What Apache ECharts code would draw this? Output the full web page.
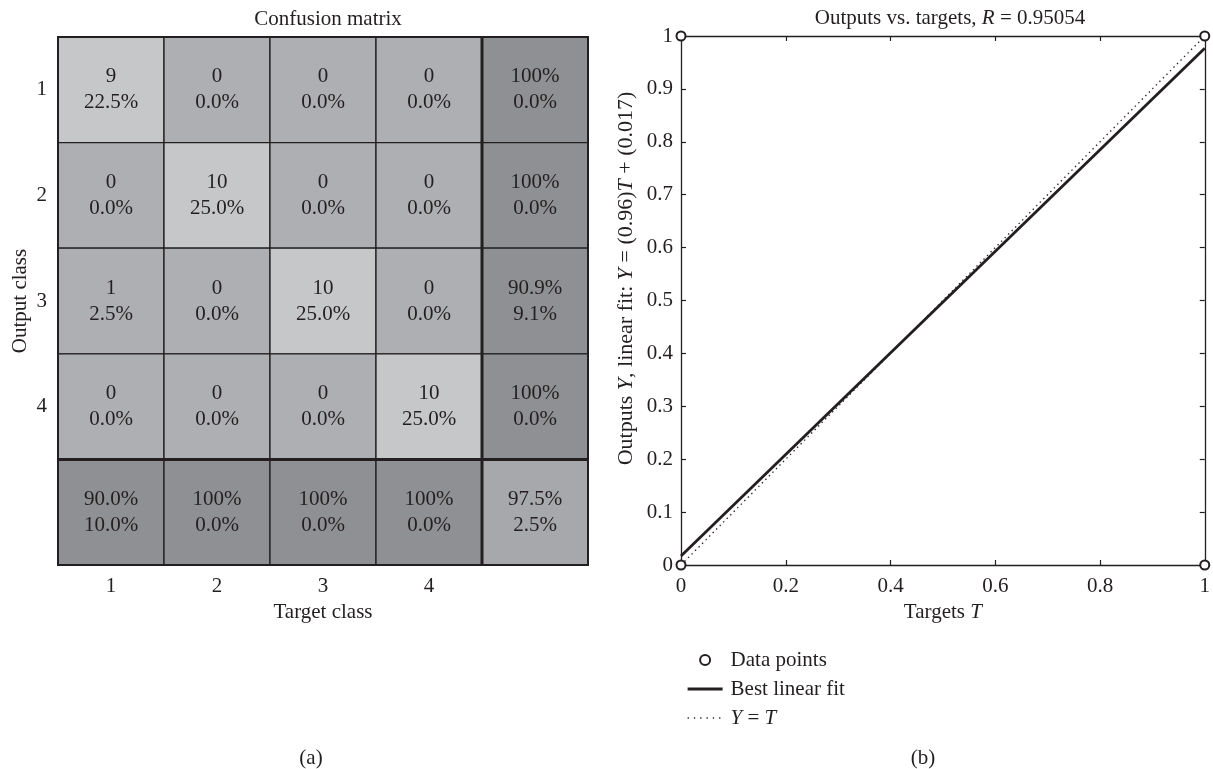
<!DOCTYPE html>
<html>
<head>
<meta charset="utf-8">
<script src="https://cdn.jsdelivr.net/npm/echarts@6/dist/echarts.min.js"></script>
<style>
html,body{margin:0;padding:0;background:#fff;}
#chart{width:1213px;height:769px;}
</style>
</head>
<body>
<div id="chart"></div>
<script>
// ---- Data ----
const targetClasses = ['1', '2', '3', '4'];
const outputClasses = ['1', '2', '3', '4'];
// rows = output class, columns = target class
const cellCounts = [
  [9, 0, 0, 0],
  [0, 10, 0, 0],
  [1, 0, 10, 0],
  [0, 0, 0, 10]
];
const cellPercents = [
  [22.5, 0.0, 0.0, 0.0],
  [0.0, 25.0, 0.0, 0.0],
  [2.5, 0.0, 25.0, 0.0],
  [0.0, 0.0, 0.0, 25.0]
];
const rowCorrect = [100, 100, 90.9, 100];
const rowWrong = [0.0, 0.0, 9.1, 0.0];
const colCorrect = [90.0, 100, 100, 100];
const colWrong = [10.0, 0.0, 0.0, 0.0];
const overallCorrect = 97.5;
const overallWrong = 2.5;

const dataPoints = [[0, 0], [0, 1], [1, 1], [1, 0]];
const fitLine = [[0, 0.017], [1, 0.977]];
const identityLine = [[0, 0], [1, 1]];

// ---- Build ----
const FONT = '"Liberation Serif", "DejaVu Serif", serif';
const FS = 21;
const TXT = '#231f20';
function fmtPct(v) { return v === 100 ? '100%' : v.toFixed(1) + '%'; }

const COL_DIAG = '#c6c7c9';
const COL_OFF = '#aeafb2';
const COL_SUM = '#8f9093';
const COL_ALL = '#a7a8ab';

const matrixData = [];
for (let r = 0; r < 4; r++) {
  for (let c = 0; c < 4; c++) {
    matrixData.push({ value: [c, r], top: String(cellCounts[r][c]), bottom: fmtPct(cellPercents[r][c]), fill: r === c ? COL_DIAG : COL_OFF });
  }
  matrixData.push({ value: [4, r], top: fmtPct(rowCorrect[r]), bottom: fmtPct(rowWrong[r]), fill: COL_SUM });
}
for (let c = 0; c < 4; c++) {
  matrixData.push({ value: [c, 4], top: fmtPct(colCorrect[c]), bottom: fmtPct(colWrong[c]), fill: COL_SUM });
}
matrixData.push({ value: [4, 4], top: fmtPct(overallCorrect), bottom: fmtPct(overallWrong), fill: COL_ALL });

function renderCell(params, api) {
  const ci = api.value(0), ri = api.value(1);
  const center = api.coord([ci, ri]);
  const size = api.size([1, 1]);
  const w = size[0], h = size[1];
  const x0 = center[0] - w / 2, y0 = center[1] - h / 2;
  const x1 = x0 + w, y1 = y0 + h;
  const item = matrixData[params.dataIndex];
  const children = [
    { type: 'rect', shape: { x: x0, y: y0, width: w, height: h }, style: { fill: item.fill, stroke: '#231f20', lineWidth: 1.3 } },
    { type: 'text', style: { text: item.top + '\n' + item.bottom, x: center[0], y: center[1], align: 'center', verticalAlign: 'middle', font: FS + 'px ' + FONT, fill: TXT, lineHeight: 26 } }
  ];
  const thick = (a, b, c, d, lw) => children.push({ type: 'line', shape: { x1: a, y1: b, x2: c, y2: d }, style: { stroke: '#231f20', lineWidth: lw } });
  if (ci === 4) thick(x0, y0 - 1, x0, y1 + 1, 3);
  if (ri === 4) thick(x0 - 1, y0, x1 + 1, y0, 3);
  if (ci === 0) thick(x0, y0 - 1, x0, y1 + 1, 2);
  if (ci === 4) thick(x1, y0 - 1, x1, y1 + 1, 2);
  if (ri === 0) thick(x0 - 1, y0, x1 + 1, y0, 2);
  if (ri === 4) thick(x0 - 1, y1, x1 + 1, y1, 2);
  return { type: 'group', children };
}

const baseText = { fontFamily: FONT, fontSize: FS, color: TXT };
const mkRich = (fs) => ({ i: { fontFamily: FONT, fontSize: fs, color: TXT, fontStyle: 'italic' }, n: { fontFamily: FONT, fontSize: fs, color: TXT } });
const rich = mkRich(FS);

const mirrorAxis = (extra) => Object.assign({
  type: 'value', min: 0, max: 1,
  axisLine: { show: true, onZero: false, lineStyle: { color: '#231f20', width: 1.3 } },
  axisTick: { show: true, inside: true, length: 5, lineStyle: { color: '#231f20', width: 1.2 } },
  axisLabel: { show: false },
  splitLine: { show: false }
}, extra);

const option = {
  backgroundColor: '#fff',
  animation: false,
  textStyle: { fontFamily: FONT },
  title: [
    { text: 'Confusion matrix', left: 323, top: 4, textAlign: 'center', textStyle: Object.assign({ fontWeight: 'normal' }, baseText) },
    { text: '{n|Outputs vs. targets, }{i|R}{n| = 0.95054}', left: 945, top: 3, textAlign: 'center', textStyle: { fontWeight: 'normal', rich } },
    { text: '(a)', left: 306, top: 743, textAlign: 'center', textStyle: Object.assign({ fontWeight: 'normal' }, baseText) },
    { text: '(b)', left: 918, top: 743, textAlign: 'center', textStyle: Object.assign({ fontWeight: 'normal' }, baseText) }
  ],
  grid: [
    { left: 58, top: 37, width: 530, height: 528 },
    { left: 681, top: 36, width: 528, height: 529 }
  ],
  xAxis: [
    {
      gridIndex: 0, type: 'category', data: targetClasses.concat(['']), boundaryGap: true,
      axisLine: { show: false }, axisTick: { show: false },
      axisLabel: Object.assign({ margin: 11 }, baseText),
      name: 'Target class', nameLocation: 'middle', nameGap: 35, nameTextStyle: baseText
    },
    mirrorAxis({
      gridIndex: 1, position: 'bottom', interval: 0.2,
      axisLabel: Object.assign({ show: true, margin: 11, formatter: v => String(+v.toFixed(1)) }, baseText),
      name: '{n|Targets }{i|T}', nameLocation: 'middle', nameGap: 34, nameTextStyle: { rich }
    }),
    mirrorAxis({ gridIndex: 1, position: 'top', interval: 0.2 })
  ],
  yAxis: [
    {
      gridIndex: 0, type: 'category', data: outputClasses.concat(['']), inverse: true, boundaryGap: true,
      axisLine: { show: false }, axisTick: { show: false },
      axisLabel: Object.assign({ margin: 11 }, baseText),
      name: 'Output class', nameLocation: 'middle', nameGap: 27, nameTextStyle: baseText
    },
    mirrorAxis({
      gridIndex: 1, position: 'left', interval: 0.1,
      axisLabel: Object.assign({ show: true, margin: 8, formatter: v => String(+v.toFixed(1)) }, baseText),
      name: '{n|Outputs }{i|Y}{n|, linear fit: }{i|Y}{n| = (0.96)}{i|T}{n| + (0.017)}', nameLocation: 'middle', nameGap: 44,
      nameTextStyle: { rich: mkRich(22), padding: [0, 0, 0, 44] }
    }),
    mirrorAxis({ gridIndex: 1, position: 'right', interval: 0.1 })
  ],
  legend: {
    orient: 'vertical', left: 681, top: 643, itemWidth: 35, itemHeight: 10, itemGap: 5,
    textStyle: Object.assign({ padding: [0, 0, 0, 3], lineHeight: 24, rich: { i: rich.i, n: rich.n } }, baseText),
    formatter: name => name === 'Y = T' ? '{i|Y}{n| = }{i|T}' : name,
    data: [
      { name: 'Data points', itemStyle: { opacity: 1, borderWidth: 1.5 } },
      { name: 'Best linear fit', itemStyle: { opacity: 0 }, lineStyle: { width: 3.2, color: '#231f20' } },
      { name: 'Y = T', itemStyle: { opacity: 0 }, lineStyle: { width: 1.3, type: [1.3, 5], color: '#231f20' } }
    ]
  },
  series: [
    {
      type: 'custom', xAxisIndex: 0, yAxisIndex: 0, renderItem: renderCell,
      data: matrixData.map(d => d.value), clip: false, silent: true
    },
    {
      name: 'Best linear fit', type: 'line', xAxisIndex: 1, yAxisIndex: 1, data: fitLine,
      symbol: 'none', lineStyle: { color: '#231f20', width: 2.8 }, itemStyle: { color: '#231f20' }, z: 3
    },
    {
      name: 'Y = T', type: 'line', xAxisIndex: 1, yAxisIndex: 1, data: identityLine,
      symbol: 'none', lineStyle: { color: '#231f20', width: 1.3, type: [1.4, 3.6] }, itemStyle: { color: '#231f20' }, z: 2
    },
    {
      name: 'Data points', type: 'scatter', xAxisIndex: 1, yAxisIndex: 1,
      data: dataPoints.map((p, i) => ({ value: p, itemStyle: { borderWidth: i === 0 ? 3 : 1.7 } })),
      symbol: 'emptyCircle', symbolSize: 9, clip: false,
      itemStyle: { color: '#231f20', borderColor: '#231f20', borderWidth: 1.7, opacity: 1 }, z: 5
    }
  ]
};

const chart = echarts.init(document.getElementById('chart'), null, { renderer: 'canvas' });
chart.setOption(option);
</script>
</body>
</html>
